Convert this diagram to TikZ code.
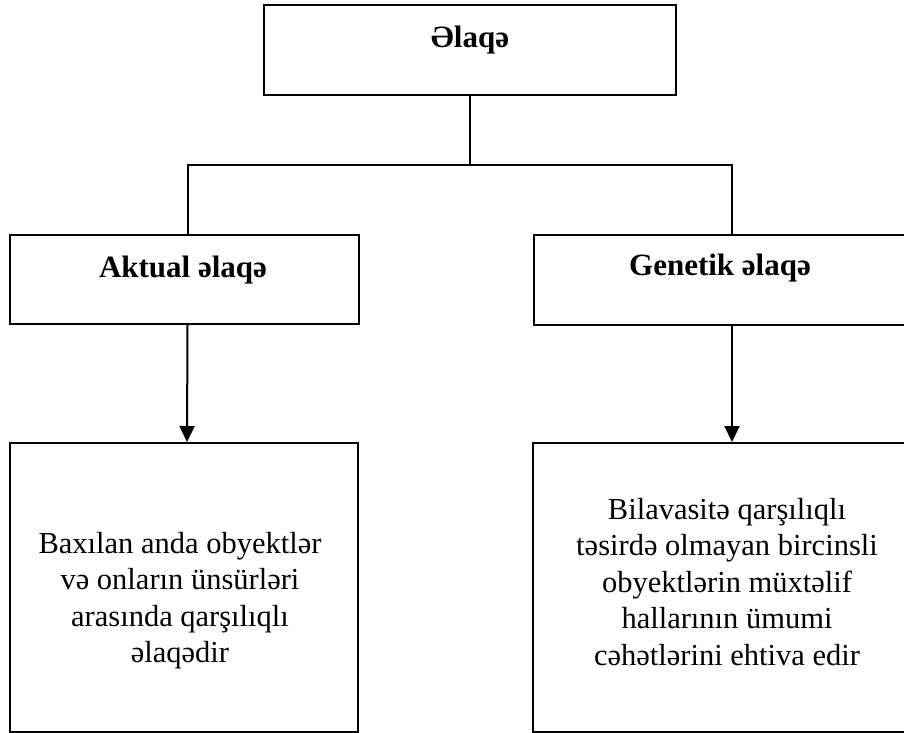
\documentclass[tikz,border=0pt]{standalone}
\usepackage{fontspec}
\setmainfont{Liberation Serif}
\usetikzlibrary{arrows.meta}
\begin{document}
\begin{tikzpicture}[x=1pt,y=-1pt,
  box/.style={draw,line width=2pt,rectangle,inner sep=0pt,anchor=north west},
  lbl/.style={font=\fontsize{31}{36.5}\selectfont\bfseries,anchor=base,inner sep=0pt},
  txt/.style={font=\fontsize{30.5}{36.5}\selectfont,align=center,anchor=base,inner sep=0pt},
  conn/.style={line width=2pt},
  arr/.style={line width=2pt,-{Triangle[width=15pt,length=16pt]}}]
\clip (0,0) rectangle (904,732);
\node[box,minimum width=412pt,minimum height=90pt] (top) at (263,4) {};
\node[box,minimum width=349pt,minimum height=89pt] (midL) at (9,234) {};
\node[box,minimum width=400pt,minimum height=90pt] (midR) at (533,234) {};
\node[box,minimum width=348pt,minimum height=289pt] (lowL) at (9,442) {};
\node[box,minimum width=400pt,minimum height=289pt] (lowR) at (532,442) {};
\coordinate (j) at (470,165);
\draw[conn] (top.south) -- (j);
\draw[conn] (j) -| ([xshift=3pt]midL.north);
\draw[conn] (j) -| ([xshift=-2pt]midR.north);
\draw[arr] ([xshift=3pt]midL.south) -- ([xshift=3pt]lowL.north);
\draw[arr] ([xshift=-2pt]midR.south) -- ([xshift=-1pt]lowR.north);
\node[lbl] (t0) at (470,47) {Əlaqə};
\node[lbl] (t1) at (183,277) {Aktual əlaqə};
\node[lbl] (t2) at (720,275) {Genetik əlaqə};
\node[txt] (t3) at (180,662.5) {Baxılan anda obyektlər\\və onların ünsürləri\\arasında qarşılıqlı\\əlaqədir};
\node[txt] (t4) at (727,665) {Bilavasitə qarşılıqlı\\təsirdə olmayan bircinsli\\obyektlərin müxtəlif\\hallarının ümumi\\cəhətlərini ehtiva edir};
\end{tikzpicture}
\end{document}
